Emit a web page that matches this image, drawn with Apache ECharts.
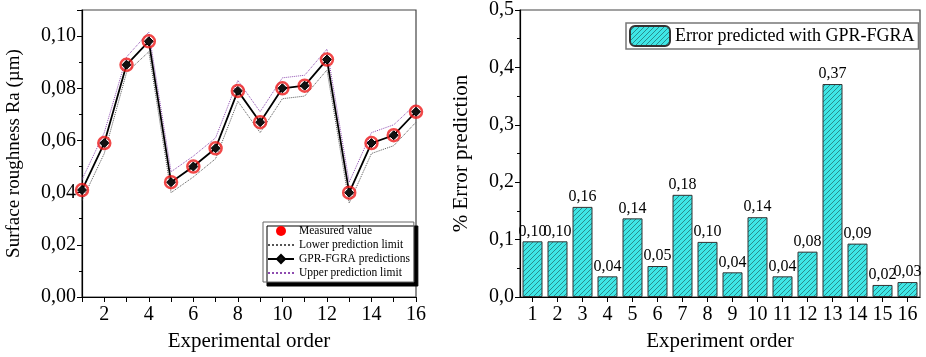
<!DOCTYPE html>
<html>
<head>
<meta charset="utf-8">
<script src="https://cdn.jsdelivr.net/npm/echarts@6/dist/echarts.min.js"></script>
<style>
  html, body { margin: 0; padding: 0; background: #fff; }
  #main { width: 926px; height: 357px; }
</style>
</head>
<body>
<div id="main"></div>
<script>
// left panel: surface roughness
var expOrder = [1, 2, 3, 4, 5, 6, 7, 8, 9, 10, 11, 12, 13, 14, 15, 16];
var measured = [0.041, 0.059, 0.089, 0.098, 0.044, 0.050, 0.057, 0.079, 0.067, 0.080, 0.081, 0.091, 0.040, 0.059, 0.062, 0.071];
var predicted = [0.041, 0.059, 0.089, 0.098, 0.044, 0.050, 0.057, 0.079, 0.067, 0.080, 0.081, 0.091, 0.040, 0.059, 0.062, 0.071];
var lowerLimit = [0.037, 0.055, 0.086, 0.094, 0.040, 0.046, 0.053, 0.075, 0.063, 0.076, 0.077, 0.087, 0.036, 0.055, 0.058, 0.067];
var upperLimit = [0.045, 0.063, 0.092, 0.1015, 0.048, 0.054, 0.061, 0.083, 0.071, 0.084, 0.085, 0.095, 0.044, 0.063, 0.066, 0.074];

// right panel: % error
var errCategories = ['1', '2', '3', '4', '5', '6', '7', '8', '9', '10', '11', '12', '13', '14', '15', '16'];
var errValues = [0.097, 0.097, 0.157, 0.036, 0.137, 0.054, 0.178, 0.096, 0.043, 0.139, 0.036, 0.079, 0.371, 0.093, 0.021, 0.026];

function pairs(ys) {
    return expOrder.map(function (x, i) { return [x, ys[i]]; });
}

// hatch pattern for bars
var hatch = document.createElement('canvas');
hatch.width = 5; hatch.height = 5;
var ctx = hatch.getContext('2d');
ctx.fillStyle = '#3ee6e6';
ctx.fillRect(0, 0, 5, 5);
ctx.strokeStyle = '#2a8c8c';
ctx.lineWidth = 1;
ctx.beginPath();
ctx.moveTo(-1, 6); ctx.lineTo(6, -1);
ctx.moveTo(-1, 1); ctx.lineTo(1, -1);
ctx.moveTo(4, 6); ctx.lineTo(6, 4);
ctx.stroke();

var FONT = 'Liberation Serif';
var axisCommon = {
    axisLine: { show: true, lineStyle: { color: '#000', width: 1.2 } },
    axisTick: { show: true, inside: false, length: 5, lineStyle: { color: '#000' } },
    splitLine: { show: false },
    axisLabel: { color: '#000', fontFamily: FONT, fontSize: 20 },
    nameTextStyle: { color: '#000', fontFamily: FONT }
};

var myChart = echarts.init(document.getElementById('main'));
myChart.setOption({
    animation: false,
    grid: [
        { left: 82, top: 10, width: 334, height: 291, show: true, borderColor: '#444', borderWidth: 1.2 },
        { left: 520, top: 7, width: 400, height: 291, show: true, borderColor: '#444', borderWidth: 1.2 }
    ],
    legend: [
        {
            orient: 'vertical', left: 263, top: 222, padding: [3, 4, 3, 4], itemGap: 2,
            itemWidth: 26, itemHeight: 10,
            backgroundColor: '#fff', borderColor: '#666', borderWidth: 1,
            shadowColor: '#000', shadowBlur: 0, shadowOffsetX: 4, shadowOffsetY: 4,
            textStyle: { fontFamily: FONT, fontSize: 11.5, color: '#000' },
            data: [
                { name: 'Measured value', icon: 'circle', itemStyle: { color: '#ff0000', borderWidth: 0, opacity: 1 } },
                { name: 'Lower prediction limit', itemStyle: { opacity: 0 } },
                'GPR-FGRA predictions',
                { name: 'Upper prediction limit', itemStyle: { opacity: 0 } }
            ]
        },
        {
            left: 626, top: 23, padding: [2, 4, 2, 3], itemGap: 0,
            itemWidth: 40, itemHeight: 20,
            backgroundColor: '#fff', borderColor: '#777', borderWidth: 1.5,
            textStyle: { fontFamily: FONT, fontSize: 18, color: '#000' },
            data: ['Error predicted with GPR-FGRA']
        }
    ],
    xAxis: [
        Object.assign({}, axisCommon, {
            gridIndex: 0, type: 'value', min: 1, max: 16, interval: 1,
            name: 'Experimental order', nameLocation: 'middle', nameGap: 34,
            nameTextStyle: { color: '#000', fontFamily: FONT, fontSize: 21 },
            axisLabel: {
                color: '#000', fontFamily: FONT, fontSize: 20, margin: 8,
                formatter: function (v) { return v % 2 === 0 ? String(v) : ''; }
            }
        }),
        Object.assign({}, axisCommon, {
            gridIndex: 1, type: 'category', data: errCategories,
            axisTick: { show: true, alignWithLabel: true, length: 5, lineStyle: { color: '#000' } },
            name: 'Experiment order', nameLocation: 'middle', nameGap: 34,
            nameTextStyle: { color: '#000', fontFamily: FONT, fontSize: 21 },
            axisLabel: { color: '#000', fontFamily: FONT, fontSize: 20, margin: 8, interval: 0 }
        })
    ],
    yAxis: [
        Object.assign({}, axisCommon, {
            gridIndex: 0, type: 'value', min: 0, max: 0.11, interval: 0.02,
            minorTick: { show: true, splitNumber: 2, length: 3, lineStyle: { color: '#000' } },
            name: 'Surface roughness Ra (µm)', nameLocation: 'middle', nameGap: 58,
            nameTextStyle: { color: '#000', fontFamily: FONT, fontSize: 19 },
            axisLabel: {
                color: '#000', fontFamily: FONT, fontSize: 20, margin: 6, showMaxLabel: false,
                formatter: function (v) { return v > 0.105 ? '' : v.toFixed(2).replace('.', ','); }
            }
        }),
        Object.assign({}, axisCommon, {
            gridIndex: 1, type: 'value', min: 0, max: 0.5, interval: 0.1,
            minorTick: { show: true, splitNumber: 2, length: 3, lineStyle: { color: '#000' } },
            name: '% Error prediction', nameLocation: 'middle', nameGap: 48,
            nameTextStyle: { color: '#000', fontFamily: FONT, fontSize: 21 },
            axisLabel: {
                color: '#000', fontFamily: FONT, fontSize: 20, margin: 6,
                formatter: function (v) { return v.toFixed(1).replace('.', ','); }
            }
        })
    ],
    series: [
        {
            name: 'Lower prediction limit', type: 'line', xAxisIndex: 0, yAxisIndex: 0,
            data: pairs(lowerLimit), showSymbol: false, symbol: 'none',
            lineStyle: { color: '#555', width: 1, type: 'dotted' }, itemStyle: { color: '#555' }
        },
        {
            name: 'Upper prediction limit', type: 'line', xAxisIndex: 0, yAxisIndex: 0,
            data: pairs(upperLimit), showSymbol: false, symbol: 'none',
            lineStyle: { color: '#8e4cb0', width: 1, type: 'dotted' }, itemStyle: { color: '#8e4cb0' }
        },
        {
            name: 'GPR-FGRA predictions', type: 'line', xAxisIndex: 0, yAxisIndex: 0,
            data: pairs(predicted), symbol: 'diamond', symbolSize: 9, showSymbol: true,
            lineStyle: { color: '#000', width: 1.8 },
            itemStyle: { color: '#111', borderColor: '#000', borderWidth: 1 }
        },
        {
            name: 'Measured value', type: 'scatter', xAxisIndex: 0, yAxisIndex: 0,
            data: pairs(measured), symbol: 'circle', symbolSize: 12, z: 5,
            itemStyle: { color: 'rgba(0,0,0,0)', borderColor: '#ee1a1a', borderWidth: 2.5 }
        },
        {
            name: 'Error predicted with GPR-FGRA', type: 'bar', xAxisIndex: 1, yAxisIndex: 1,
            data: errValues, barWidth: '80%',
            itemStyle: { color: { image: hatch, repeat: 'repeat' }, borderColor: '#333', borderWidth: 1 },
            label: {
                show: true, position: 'top', distance: 2,
                fontFamily: FONT, fontSize: 16, color: '#000',
                formatter: function (p) { return p.value.toFixed(2).replace('.', ','); }
            }
        }
    ]
});
</script>
</body>
</html>
